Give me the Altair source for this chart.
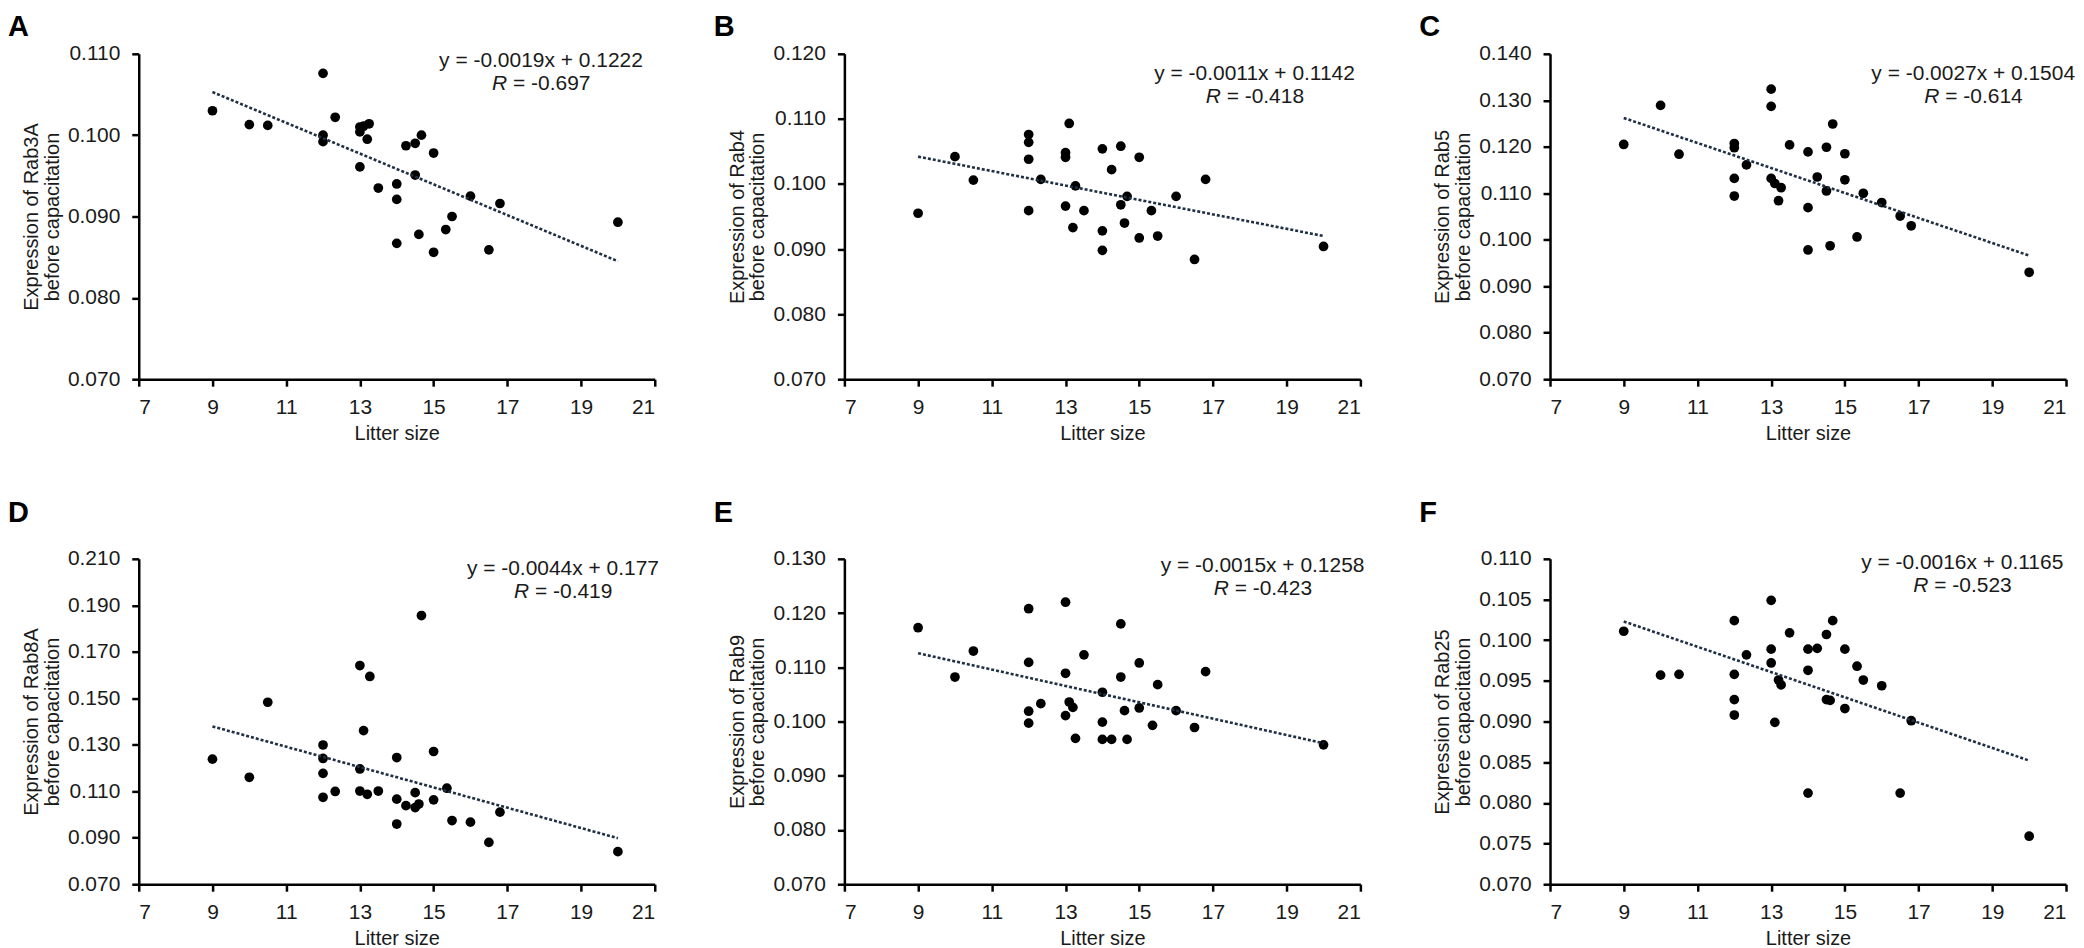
import altair as alt
import pandas as pd

FONT = "Liberation Sans"
INK = "#1a1a1a"

# shared x-axis (litter size)
x_ticks = [7, 9, 11, 13, 15, 17, 19, 21]
trend_x = [9, 20]

# ---- Panel A : Rab3A ----
a_x = [9, 10, 10.5, 12, 12, 12, 12.33, 13, 13, 13.1, 13.25, 13.2, 13, 13.5, 14, 14, 14, 14.25,
       14.5, 14.67, 14.5, 14.6, 15, 15, 15.33, 15.5, 16, 16.5, 16.8, 20]
a_y = [0.1030, 0.1013, 0.1012, 0.1076, 0.1000, 0.0992, 0.1022, 0.1010, 0.1004, 0.1011, 0.1014,
       0.0995, 0.0961, 0.0935, 0.0940, 0.0921, 0.0867, 0.0987, 0.0990, 0.1000, 0.0951, 0.0878,
       0.0978, 0.0856, 0.0884, 0.0900, 0.0925, 0.0859, 0.0916, 0.0893]
a_trend = [0.1053, 0.0845]
a_ticks = [0.070, 0.080, 0.090, 0.100, 0.110]

# ---- Panel B : Rab4 ----
b_x = [9, 10, 10.5, 12, 12, 12, 12, 12.33, 13.1, 13, 13, 13.27, 13, 13.2, 13.5, 14, 14.25, 14.5,
       15, 14.67, 14.5, 14.6, 14, 14, 15, 15.33, 15.5, 16, 16.8, 16.5, 20]
b_y = [0.0955, 0.1042, 0.1006, 0.1076, 0.1064, 0.1038, 0.0959, 0.1007, 0.1093, 0.1048, 0.1041,
       0.0997, 0.0966, 0.0933, 0.0959, 0.1054, 0.1022, 0.1058, 0.1041, 0.0981, 0.0968, 0.0940,
       0.0928, 0.0898, 0.0917, 0.0959, 0.0920, 0.0981, 0.1007, 0.0884, 0.0904]
b_trend = [0.1042, 0.0920]
b_ticks = [0.070, 0.080, 0.090, 0.100, 0.110, 0.120]

# ---- Panel C : Rab5 ----
c_x = [9, 10, 10.5, 12, 12, 12, 12, 12.33, 13, 13, 13, 13.1, 13.27, 13.2, 13.5, 14, 14, 14, 14.25,
       14.5, 14.5, 14.67, 14.6, 15, 15, 15.33, 15.5, 16, 16.5, 16.8, 20]
c_y = [0.1205, 0.1289, 0.1184, 0.1207, 0.1198, 0.1132, 0.1094, 0.1161, 0.1324, 0.1287, 0.1132,
       0.1121, 0.1112, 0.1084, 0.1204, 0.1189, 0.1069, 0.0978, 0.1135, 0.1199, 0.1105, 0.1249,
       0.0987, 0.1185, 0.1129, 0.1006, 0.1100, 0.1080, 0.1051, 0.1030, 0.0930]
c_trend = [0.1262, 0.0966]
c_ticks = [0.070, 0.080, 0.090, 0.100, 0.110, 0.120, 0.130, 0.140]

# ---- Panel D : Rab8A ----
d_x = [9, 10, 10.5, 12, 12, 12, 12, 12.33, 13, 13.27, 13.1, 13, 13, 13.2, 13.5, 14, 14, 14, 14.25,
       14.5, 14.5, 14.6, 14.67, 15, 15, 15.36, 15.5, 16, 16.5, 16.8, 20]
d_y = [0.1238, 0.1160, 0.1483, 0.1299, 0.1241, 0.1177, 0.1074, 0.1099, 0.1641, 0.1594, 0.1361,
       0.1196, 0.1101, 0.1087, 0.1101, 0.1245, 0.1066, 0.0959, 0.1038, 0.1094, 0.1030, 0.1045,
       0.1856, 0.1271, 0.1063, 0.1113, 0.0974, 0.0967, 0.0880, 0.1010, 0.0840]
d_trend = [0.1379, 0.0898]
d_ticks = [0.070, 0.090, 0.110, 0.130, 0.150, 0.170, 0.190, 0.210]

# ---- Panel E : Rab9 ----
e_x = [9, 10, 10.5, 12, 12, 12, 12, 12.33, 13, 13, 13.1, 13.2, 13, 13.27, 13.5, 14, 14, 14, 14.25,
       14.5, 14.5, 14.6, 14.67, 15, 15, 15.36, 15.5, 16, 16.5, 16.8, 20]
e_y = [0.1173, 0.1082, 0.1130, 0.1208, 0.1109, 0.1019, 0.0997, 0.1033, 0.1220, 0.1089, 0.1036,
       0.1026, 0.1011, 0.0969, 0.1123, 0.1054, 0.0999, 0.0967, 0.0967, 0.1180, 0.1082, 0.1020,
       0.0967, 0.1108, 0.1025, 0.0993, 0.1068, 0.1020, 0.0989, 0.1092, 0.0957]
e_trend = [0.1126, 0.0960]
e_ticks = [0.070, 0.080, 0.090, 0.100, 0.110, 0.120, 0.130]

# ---- Panel F : Rab25 ----
f_x = [9, 10, 10.5, 12, 12, 12, 12, 12.33, 13, 13, 13, 13.2, 13.27, 13.1, 13.5, 14, 14, 14, 14.25,
       14.5, 14.5, 14.6, 14.67, 15, 15, 15.33, 15.5, 16, 16.5, 16.8, 20]
f_y = [0.1011, 0.0957, 0.0958, 0.1024, 0.0958, 0.0927, 0.0908, 0.0982, 0.1049, 0.0989, 0.0972,
       0.0951, 0.0945, 0.0899, 0.1009, 0.0989, 0.0963, 0.0812, 0.0990, 0.1007, 0.0927, 0.0926,
       0.1024, 0.0989, 0.0916, 0.0968, 0.0951, 0.0944, 0.0812, 0.0901, 0.0759]
f_trend = [0.1023, 0.0852]
f_ticks = [0.070, 0.075, 0.080, 0.085, 0.090, 0.095, 0.100, 0.105, 0.110]

letters = ["A", "B", "C", "D", "E", "F"]
genes = ["Rab3A", "Rab4", "Rab5", "Rab8A", "Rab9", "Rab25"]
equations = ["y = -0.0019x + 0.1222", "y = -0.0011x + 0.1142", "y = -0.0027x + 0.1504",
             "y = -0.0044x + 0.177", "y = -0.0015x + 0.1258", "y = -0.0016x + 0.1165"]
r_values = ["-0.697", "-0.418", "-0.614", "-0.419", "-0.423", "-0.523"]
xs_all = [a_x, b_x, c_x, d_x, e_x, f_x]
ys_all = [a_y, b_y, c_y, d_y, e_y, f_y]
trends = [a_trend, b_trend, c_trend, d_trend, e_trend, f_trend]
ticks_all = [a_ticks, b_ticks, c_ticks, d_ticks, e_ticks, f_ticks]

# annotation placement (pixels relative to each plot area)
eq_dx = [403, 411, 424, 425, 419, 413]
eq_dy = [7, 20, 20, 10, 7, 4]
letter_dy = [-18, -18, -18, -37, -37, -37]

W, H = 517, 326


def make_panel(i):
    pts = pd.DataFrame({"x": xs_all[i], "y": ys_all[i]})
    tr = pd.DataFrame({"x": trend_x, "y": trends[i]})
    one = pd.DataFrame({"t": [0]})
    ticks = ticks_all[i]
    xs = alt.Scale(domain=[7, 21], nice=False, zero=False)
    ys = alt.Scale(domain=[ticks[0], ticks[-1]], nice=False, zero=False)
    xax = alt.Axis(values=x_ticks, title="Litter size", format="d")
    yax = alt.Axis(values=ticks, format=".3f",
                   title=[f"Expression of {genes[i]}", "before capacitation"])
    points = alt.Chart(pts).mark_circle(size=95, color="black", opacity=1).encode(
        x=alt.X("x:Q", scale=xs, axis=xax),
        y=alt.Y("y:Q", scale=ys, axis=yax),
    )
    line = alt.Chart(tr).mark_line(color="#1f3044", strokeWidth=2.6, strokeDash=[3, 2]).encode(
        x=alt.X("x:Q", scale=xs, axis=xax),
        y=alt.Y("y:Q", scale=ys, axis=yax),
    )
    c = eq_dx[i]
    eq = alt.Chart(one).mark_text(text=equations[i], font=FONT, fontSize=21, color=INK,
                                  align="center", baseline="middle").encode(
        x=alt.value(c), y=alt.value(eq_dy[i]))
    r_it = alt.Chart(one).mark_text(text="R", font=FONT, fontSize=21, fontStyle="italic", color=INK,
                                    align="left", baseline="middle").encode(
        x=alt.value(c - 49), y=alt.value(eq_dy[i] + 23))
    r_rest = alt.Chart(one).mark_text(text="= " + r_values[i], font=FONT, fontSize=21, color=INK,
                                      align="left", baseline="middle").encode(
        x=alt.value(c - 28), y=alt.value(eq_dy[i] + 23))
    letter = alt.Chart(one).mark_text(text=letters[i], font=FONT, fontSize=29, fontWeight="bold",
                                      color="black", align="left", baseline="alphabetic").encode(
        x=alt.value(-131), y=alt.value(letter_dy[i]))
    return alt.layer(points, line, eq, r_it, r_rest, letter).properties(width=W, height=H)


chart = alt.concat(
    *[make_panel(i) for i in range(6)],
    columns=3, spacing={"row": 180, "column": 190}, bounds="flush",
).properties(
    padding={"top": 4, "left": 0, "right": 0, "bottom": 0}, background="white"
).configure_view(stroke=None).configure_axis(
    grid=False,
    domainColor="black", domainWidth=2.5,
    tickColor="black", tickWidth=2.5, tickSize=7,
    labelFont=FONT, labelFontSize=21, labelColor=INK,
    titleFont=FONT, titleFontSize=20, titleFontWeight="normal", titleColor=INK,
).configure_axisX(labelPadding=10, titlePadding=6).configure_axisY(
    labelPadding=12, titlePadding=5, titleLineHeight=21
)

chart.save("out.html", embed_options={"renderer": "svg", "actions": False})
